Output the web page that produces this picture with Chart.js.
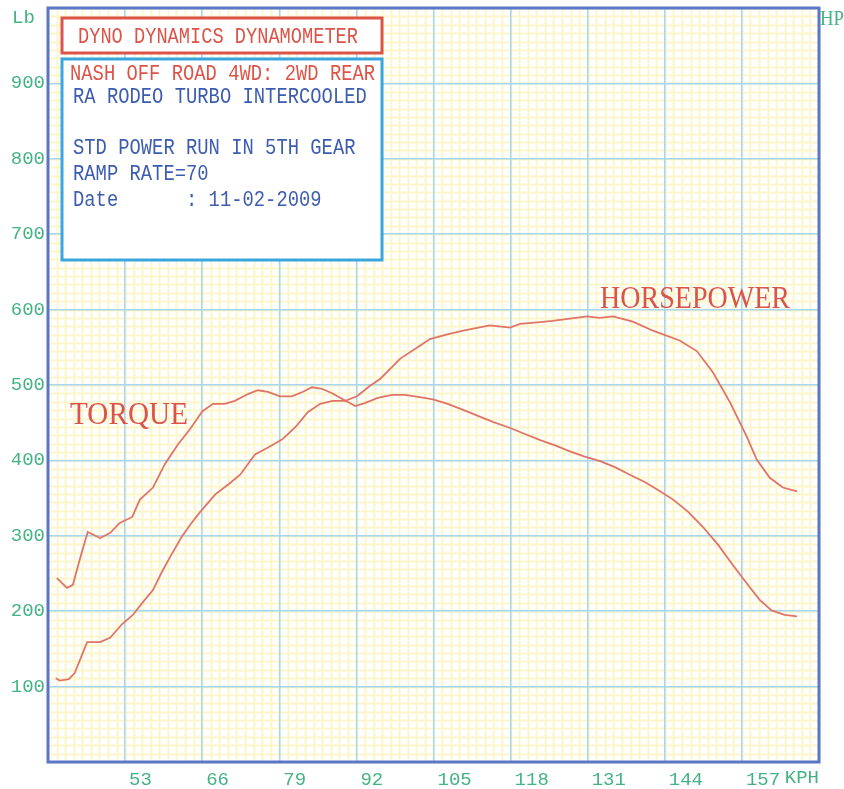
<!DOCTYPE html>
<html>
<head>
<meta charset="utf-8">
<script src="https://cdn.jsdelivr.net/npm/chart.js@4.4.0/dist/chart.umd.min.js"></script>
<style>
  html, body { margin: 0; padding: 0; background: #fff; }
  #wrap { width: 844px; height: 789px; }
</style>
</head>
<body>
<div id="wrap"><canvas id="dyno"></canvas></div>
<script>
// readings taken off the dyno sheet
const torqueKph = [41.5, 43.2, 44.2, 45.4, 46.7, 48.8, 50.5, 52.1, 54.2, 55.5, 57.7, 59.7, 61.9, 63.9, 66, 67.8, 69.8, 71.5, 73.7, 75.4, 77.1, 79.1, 81.1, 83, 84.5, 86.2, 87.9, 89.7, 91.8, 93.4, 95.6, 98, 100.2, 102.7, 104.9, 107.4, 110, 112.5, 115, 117.6, 120.1, 123, 125.5, 128, 130.5, 133.1, 135.6, 138.1, 140.7, 143.2, 145.4, 147.9, 150.4, 153, 155.5, 158, 160, 162, 164.2, 166.3];
const torqueLb = [244, 231, 235, 270, 305, 297, 304, 317, 325, 348, 364, 395, 421, 441, 465, 475, 475, 479, 488, 493, 491, 485, 485, 491, 497, 495, 489, 481, 472, 476, 483, 487, 487, 484, 481, 475, 467, 459, 451, 444, 436, 427, 420, 412, 405, 399, 391, 381, 371, 359, 348, 332, 312, 288, 261, 235, 215, 201, 195, 193];

const hpKph = [41.3, 42, 43.5, 44.5, 46.6, 48.8, 50.5, 52.5, 54.3, 56, 57.7, 59.2, 60.6, 62.5, 64, 65.6, 68.2, 70.4, 72.4, 74.9, 77.1, 79.5, 81.7, 83.8, 85.9, 88, 90.1, 92.1, 94.3, 96, 99.4, 102.7, 104.4, 107.3, 110, 114.5, 117.9, 119.6, 122.5, 125.1, 128, 130.9, 133, 135.3, 138.6, 142, 146.5, 149.4, 152.1, 155, 157.8, 159.5, 161.7, 163.9, 166.3];
const hpVal = [111, 108, 110, 118, 159, 159, 165, 183, 195, 212, 228, 252, 272, 298, 315, 331, 355, 368, 381, 408, 417, 428, 444, 464, 475, 479, 479, 485, 499, 508, 535, 552, 561, 567, 572, 579, 576, 581, 583, 585, 588, 591, 589, 591, 584, 572, 559, 545, 517, 477, 432, 401, 377, 364, 359];

const kphTicks = [53, 66, 79, 92, 105, 118, 131, 144, 157];
const lbTicks = [100, 200, 300, 400, 500, 600, 700, 800, 900];

const headerText = 'DYNO DYNAMICS DYNAMOMETER';
const infoLines = [
  'NASH OFF ROAD 4WD: 2WD REAR',
  'RA RODEO TURBO INTERCOOLED',
  '',
  'STD POWER RUN IN 5TH GEAR',
  'RAMP RATE=70',
  'Date      : 11-02-2009'
];

const GREEN = '#43b384';
const RED = '#dc5448';
const INK = '#3c5cb0';
const FRAME = '#5a76c6';
const CURVE = '#e07466';
const MONO = '"Liberation Mono", "DejaVu Sans Mono", monospace';
const SERIF = '"Liberation Serif", "DejaVu Serif", serif';

const toPoints = (xs, ys) => xs.map((x, i) => ({ x: x, y: ys[i] }));

// yellow graph paper under the blue grid
const paper = {
  id: 'paper',
  beforeDraw(chart) {
    const { ctx, chartArea: a, scales: { x, y } } = chart;
    ctx.save();
    ctx.strokeStyle = 'rgba(250, 238, 150, 0.5)';
    ctx.lineWidth = 2;
    ctx.beginPath();
    for (let v = 40; v <= 170.01; v += 13 / 9) {
      const px = Math.round(x.getPixelForValue(v)) + 0.5;
      ctx.moveTo(px, a.top); ctx.lineTo(px, a.bottom);
    }
    for (let v = 0; v <= 1000.01; v += 100 / 9) {
      const py = Math.round(y.getPixelForValue(v)) + 0.5;
      ctx.moveTo(a.left, py); ctx.lineTo(a.right, py);
    }
    ctx.stroke();
    ctx.restore();
  },
  afterDraw(chart) {
    const { ctx, chartArea: a } = chart;
    ctx.save();
    // frame
    ctx.strokeStyle = FRAME;
    ctx.lineWidth = 3;
    ctx.strokeRect(a.left, a.top, a.right - a.left, a.bottom - a.top);

    // axis captions
    ctx.fillStyle = GREEN;
    ctx.textBaseline = 'middle';
    ctx.font = '19px ' + MONO;
    ctx.textAlign = 'left';
    ctx.fillText('Lb', 12, 18, 24);
    ctx.textAlign = 'right';
    ctx.fillText('KPH', a.right, 778, 36);
    ctx.font = '20px ' + SERIF;
    ctx.textAlign = 'left';
    ctx.fillText('HP', 820, 20, 24);

    // header box
    ctx.fillStyle = '#fff';
    ctx.fillRect(62, 18, 320, 35);
    ctx.strokeStyle = RED;
    ctx.lineWidth = 3;
    ctx.strokeRect(62, 18, 320, 35);
    ctx.fillStyle = RED;
    ctx.font = '22px ' + MONO;
    ctx.textAlign = 'left';
    ctx.fillText(headerText, 78, 37, 280);

    // info box
    ctx.fillStyle = '#fff';
    ctx.fillRect(62, 59, 320, 201);
    ctx.strokeStyle = '#3aa6de';
    ctx.strokeRect(62, 59, 320, 201);
    const rows = [74, 97, 122, 148, 174, 200];
    infoLines.forEach((t, i) => {
      if (!t) return;
      ctx.fillStyle = i === 0 ? RED : INK;
      const left = i === 0 ? 70 : 73;
      ctx.fillText(t, left, rows[i], t.length * 11.3);
    });

    // curve names
    ctx.fillStyle = RED;
    ctx.font = '31px ' + SERIF;
    ctx.fillText('TORQUE', 70, 416, 118);
    ctx.fillText('HORSEPOWER', 600, 300, 190);
    ctx.restore();
  }
};

new Chart(document.getElementById('dyno'), {
  type: 'line',
  data: {
    datasets: [
      { label: 'Torque', data: toPoints(torqueKph, torqueLb) },
      { label: 'Horsepower', data: toPoints(hpKph, hpVal) }
    ]
  },
  options: {
    responsive: true,
    maintainAspectRatio: false,
    animation: false,
    layout: { padding: { top: 8, right: 25, left: 0, bottom: 0 } },
    elements: {
      line: { borderColor: CURVE, borderWidth: 1.8, tension: 0, fill: false },
      point: { radius: 0 }
    },
    plugins: { legend: { display: false }, tooltip: { enabled: false } },
    scales: {
      x: {
        type: 'linear',
        min: 40,
        max: 170,
        afterBuildTicks: s => { s.ticks = []; for (let v = 40; v <= 170; v += 13) s.ticks.push({ value: v }); },
        afterFit: s => { s.height = 27; s.paddingLeft = 0; s.paddingRight = 0; },
        border: { display: false },
        grid: { color: '#a6d6f0', lineWidth: 1.5, drawTicks: false },
        ticks: {
          callback: v => kphTicks.includes(v) ? String(v) : '',
          align: 'start',
          labelOffset: 4,
          padding: 7,
          maxRotation: 0,
          autoSkip: false,
          color: GREEN,
          font: { family: MONO, size: 19 }
        }
      },
      y: {
        min: 0,
        max: 1000,
        afterBuildTicks: s => { s.ticks = []; for (let v = 0; v <= 1000; v += 100) s.ticks.push({ value: v }); },
        afterFit: s => { s.width = 48; s.paddingTop = 0; s.paddingBottom = 0; },
        border: { display: false },
        grid: { color: '#a6d6f0', lineWidth: 1.5, drawTicks: false },
        ticks: {
          callback: v => lbTicks.includes(v) ? String(v) : '',
          padding: 3,
          autoSkip: false,
          color: GREEN,
          font: { family: MONO, size: 19 }
        }
      }
    }
  },
  plugins: [paper]
});
</script>
</body>
</html>
